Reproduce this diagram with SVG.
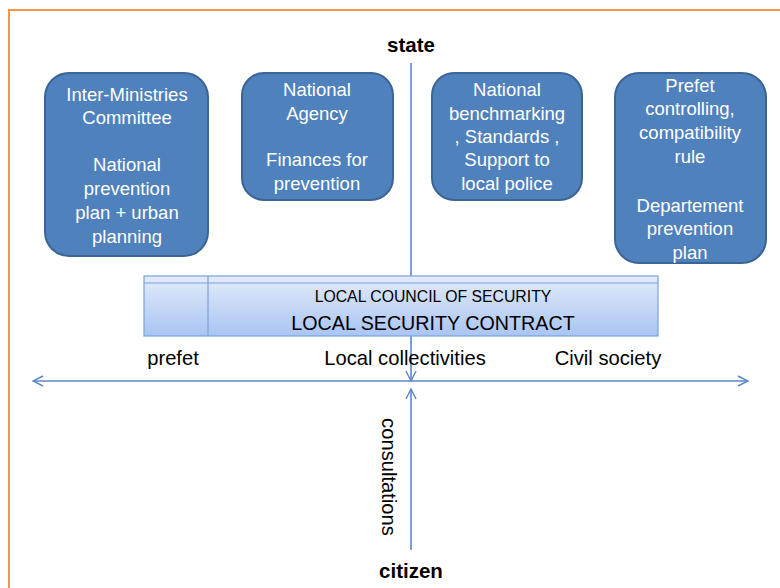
<svg xmlns="http://www.w3.org/2000/svg" width="780" height="588" viewBox="0 0 780 588">
<defs>
<linearGradient id="band" x1="0" y1="0" x2="0" y2="1">
<stop offset="0" stop-color="#e3ebf9"/>
<stop offset="1" stop-color="#a9c5f2"/>
</linearGradient>
<marker id="arr" viewBox="0 0 12 12" refX="11" refY="6" markerWidth="12" markerHeight="12" markerUnits="userSpaceOnUse" orient="auto-start-reverse">
<path d="M1,1 L11,6 L1,11" fill="none" stroke="#5b87c7" stroke-width="1.4"/>
</marker>
<style>
.box{fill:#4f81bd;stroke:#3a6594;stroke-width:2}
.bt{font-family:"Liberation Sans",Arial,sans-serif;font-size:18.5px;fill:#ffffff;text-anchor:middle}
.lbl{font-family:"Liberation Sans",Arial,sans-serif;font-size:20.2px;fill:#000;text-anchor:middle}
.ttl{font-family:"Liberation Sans",Arial,sans-serif;font-size:20.5px;font-weight:bold;fill:#000;text-anchor:middle}
.ln{stroke:#5b87c7;stroke-width:1.6;fill:none}
</style>
</defs>
<rect x="9" y="10" width="800" height="600" fill="#ffffff" stroke="#f79646" stroke-width="2"/>

<g id="connectors">
<line class="ln" x1="411" y1="63" x2="411" y2="381" marker-end="url(#arr)"/>
<line class="ln" x1="411" y1="550" x2="411" y2="389" marker-end="url(#arr)"/>
<line class="ln" x1="33" y1="381" x2="748" y2="381" marker-start="url(#arr)" marker-end="url(#arr)"/>
</g>

<g id="state"><text class="ttl" x="411" y="52">state</text></g>
<g id="citizen"><text class="ttl" x="411" y="578">citizen</text></g>

<g id="inter-ministries">
<rect class="box" x="45" y="73" width="163" height="183" rx="24"/>
<text class="bt" x="127" y="101">Inter-Ministries</text>
<text class="bt" x="127" y="124">Committee</text>
<text class="bt" x="127" y="171">National</text>
<text class="bt" x="127" y="195">prevention</text>
<text class="bt" x="127" y="219">plan + urban</text>
<text class="bt" x="127" y="243">planning</text>
</g>

<g id="national-agency">
<rect class="box" x="242" y="73" width="151" height="127" rx="22"/>
<text class="bt" x="317" y="96">National</text>
<text class="bt" x="317" y="120">Agency</text>
<text class="bt" x="317" y="166">Finances for</text>
<text class="bt" x="317" y="190">prevention</text>
</g>

<g id="national-benchmarking">
<rect class="box" x="432" y="73" width="150" height="127" rx="22"/>
<text class="bt" x="507" y="96">National</text>
<text class="bt" x="507" y="120">benchmarking</text>
<text class="bt" x="507" y="143">, Standards ,</text>
<text class="bt" x="507" y="166">Support to</text>
<text class="bt" x="507" y="190">local police</text>
</g>

<g id="prefet-controlling">
<rect class="box" x="615" y="73" width="151" height="190" rx="24"/>
<text class="bt" x="690" y="92">Prefet</text>
<text class="bt" x="690" y="115">controlling,</text>
<text class="bt" x="690" y="139">compatibility</text>
<text class="bt" x="690" y="163">rule</text>
<text class="bt" x="690" y="212">Departement</text>
<text class="bt" x="690" y="235">prevention</text>
<text class="bt" x="690" y="259">plan</text>
</g>

<g id="local-security-contract">
<rect x="144" y="276" width="514" height="60" fill="url(#band)" stroke="#7aa0dc" stroke-width="1.2"/>
<line x1="144" y1="283" x2="658" y2="283" stroke="#7aa0dc" stroke-width="1.2"/>
<line x1="208" y1="276" x2="208" y2="336" stroke="#7aa0dc" stroke-width="1.2"/>
<text x="433" y="302" font-family="'Liberation Sans',Arial,sans-serif" font-size="15.8" text-anchor="middle" fill="#000">LOCAL COUNCIL OF SECURITY</text>
<text x="433" y="330" font-family="'Liberation Sans',Arial,sans-serif" font-size="19.7" text-anchor="middle" fill="#000">LOCAL SECURITY CONTRACT</text>
</g>

<g id="prefet"><text class="lbl" x="173" y="365">prefet</text></g>
<g id="local-collectivities"><text class="lbl" x="405" y="365">Local collectivities</text></g>
<g id="civil-society"><text class="lbl" x="608" y="365">Civil society</text></g>

<g id="consultations"><text class="lbl" font-size="21px" transform="translate(382,477) rotate(90)" x="0" y="0">consultations</text></g>
</svg>
